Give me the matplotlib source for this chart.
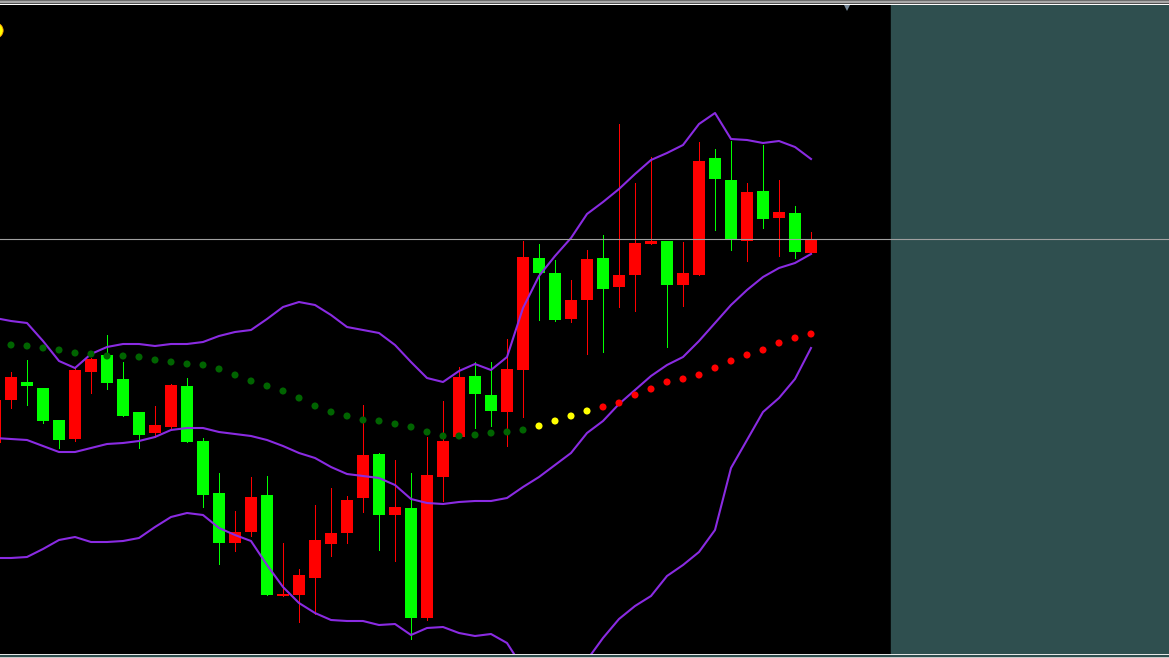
import numpy as np
import matplotlib
matplotlib.use("Agg")
import matplotlib.pyplot as plt
from matplotlib.patches import Rectangle

# bar index -1 is the candle cut off at the left edge
bar_idx = np.arange(-1, 51)

# prices in chart points (bottom of window = 0)
opens = [215, 258, 276, 270, 238, 219, 286, 303, 279, 246, 225, 231, 272, 217, 165, 115, 126,
         163, 62, 63, 80, 114, 125, 160, 204, 143, 150, 40, 181, 221, 282, 263, 246, 288, 400,
         385, 339, 358, 400, 371, 383, 414, 417, 373, 383, 500, 478, 417, 467, 440, 445, 405]
highs = [260, 286, 298, 270, 238, 290, 300, 323, 296, 246, 252, 274, 280, 220, 185, 147, 181,
         182, 115, 89, 153, 170, 162, 253, 205, 198, 185, 221, 257, 291, 296, 296, 319, 417, 414,
         398, 378, 408, 423, 534, 475, 501, 417, 416, 516, 509, 517, 475, 513, 478, 452, 426]
lows = [212, 250, 253, 235, 210, 217, 265, 269, 242, 210, 221, 228, 216, 151, 94, 107, 122,
        63, 62, 36, 44, 102, 115, 146, 108, 97, 19, 38, 157, 221, 230, 232, 212, 241, 338,
        337, 336, 304, 306, 351, 347, 414, 311, 352, 383, 428, 408, 397, 430, 402, 400, 405]
closes = [258, 281, 272, 237, 218, 288, 299, 275, 242, 223, 233, 273, 216, 163, 115, 126, 161,
          63, 64, 83, 118, 125, 158, 203, 143, 151, 40, 183, 217, 281, 264, 247, 289, 401, 385,
          338, 358, 399, 369, 383, 415, 417, 373, 385, 497, 479, 419, 466, 439, 446, 406, 419]

# bollinger bands
bb_upper = [340, 337, 335, 317, 297, 290, 304, 311, 314, 314, 312, 314, 314, 316, 322, 326, 328,
            339, 351, 356, 353, 343, 331, 328, 325, 313, 296, 280, 276, 287, 294, 288, 301, 350,
            382, 402, 420, 444, 456, 469, 484, 498, 505, 513, 534, 545, 519, 518, 515, 517, 511, 499]
bb_mid = [220, 219, 218, 212, 206, 206, 210, 214, 215, 217, 221, 228, 230, 230, 226, 224, 222,
          218, 212, 205, 200, 191, 184, 182, 180, 173, 159, 155, 154, 156, 157, 157, 160, 171,
          181, 193, 205, 225, 237, 254, 268, 282, 293, 301, 317, 335, 353, 368, 381, 390, 395, 404]
bb_lower = [100, 100, 101, 109, 118, 121, 116, 116, 117, 120, 131, 141, 145, 143, 130, 123, 117,
            93, 71, 55, 45, 38, 37, 37, 33, 34, 23, 30, 31, 25, 22, 24, 15, -10, -27, -32, -20,
            -2, 20, 39, 52, 62, 82, 93, 106, 128, 190, 218, 246, 260, 279, 310]

# dotted trend line (bars 0..50) and its state
trend_idx = np.arange(0, 51)
trend = [313, 312, 310, 308, 305, 304, 302, 302, 301, 298, 296, 294, 293, 289, 283, 277, 272,
         267, 260, 252, 246, 242, 238, 237, 234, 231, 226, 222, 222, 223, 225, 226, 228, 232,
         237, 242, 247, 251, 255, 263, 269, 276, 279, 283, 290, 297, 303, 308, 315, 320, 324]
trend_state = ["down"] * 33 + ["flat"] * 4 + ["up"] * 14

state_colors = {"down": "#006400", "flat": "#ffff00", "up": "#ff0000"}

W, H = 1169, 658
fig = plt.figure(figsize=(W / 100, H / 100), dpi=100)
fig.patch.set_facecolor("black")
ax = fig.add_axes([0, 0, 1, 1])
ax.set_facecolor("black")
ax.set_xlim(-11 / 16, (W - 11) / 16)
ax.set_ylim(0, H)
ax.axis("off")

# empty area to the right of the last bar
ax.axvspan(55, (W - 11) / 16, color="#2f4f4f", zorder=0)

opens_a = np.array(opens)
closes_a = np.array(closes)
bull = closes_a >= opens_a
candle_colors = np.where(bull, "#ff0000", "#00ff00")

ax.vlines(bar_idx, lows, highs, colors=candle_colors, linewidth=0.7,
          antialiased=False, zorder=2)
body_low = np.minimum(opens_a, closes_a)
body_h = np.maximum(np.abs(closes_a - opens_a), 1.5)
ax.bar(bar_idx, body_h, bottom=body_low, width=0.69, color=candle_colors,
       linewidth=0, antialiased=False, zorder=3)

for band in (bb_upper, bb_mid, bb_lower):
    ax.plot(bar_idx, band, color="#8a2be2", linewidth=1.5, zorder=4)

ax.scatter(trend_idx, trend, s=26, c=[state_colors[s] for s in trend_state],
           linewidths=0, zorder=5)

# bid line at last close
ax.axhline(closes[-1], color="#a0a0a0", linewidth=0.8, zorder=6)

# chart shift marker and a cut off object at the top left
ax.plot([52.25], [H - 7], marker="v", markersize=6, color="#778899",
        markeredgewidth=0, zorder=7)
ax.plot([-1.0], [H - 30], marker="o", markersize=11, markerfacecolor="#ffff00",
        markeredgecolor="#ff9900", markeredgewidth=0.6, zorder=7, clip_on=True)

# window frame rows (pixel rows from the top)
def frame_row(y0, h, color):
    fig.add_artist(Rectangle((0, 1 - (y0 + h) / H), 1, h / H, transform=fig.transFigure,
                             facecolor=color, edgecolor="none", zorder=20))

frame_row(0, 1, "#6e6e6e")
frame_row(1, 2, "#a8a8a8")
frame_row(3, 1, "#505050")
frame_row(4, 1, "#ffffff")
frame_row(653.5, 1, "#e6e6e6")
frame_row(654.5, 2, "#2f4f4f")
frame_row(656.5, 1, "#c8c8c8")
frame_row(657.5, 0.5, "#2f4f4f")

fig.savefig("out.png", dpi=100, facecolor=fig.get_facecolor())
